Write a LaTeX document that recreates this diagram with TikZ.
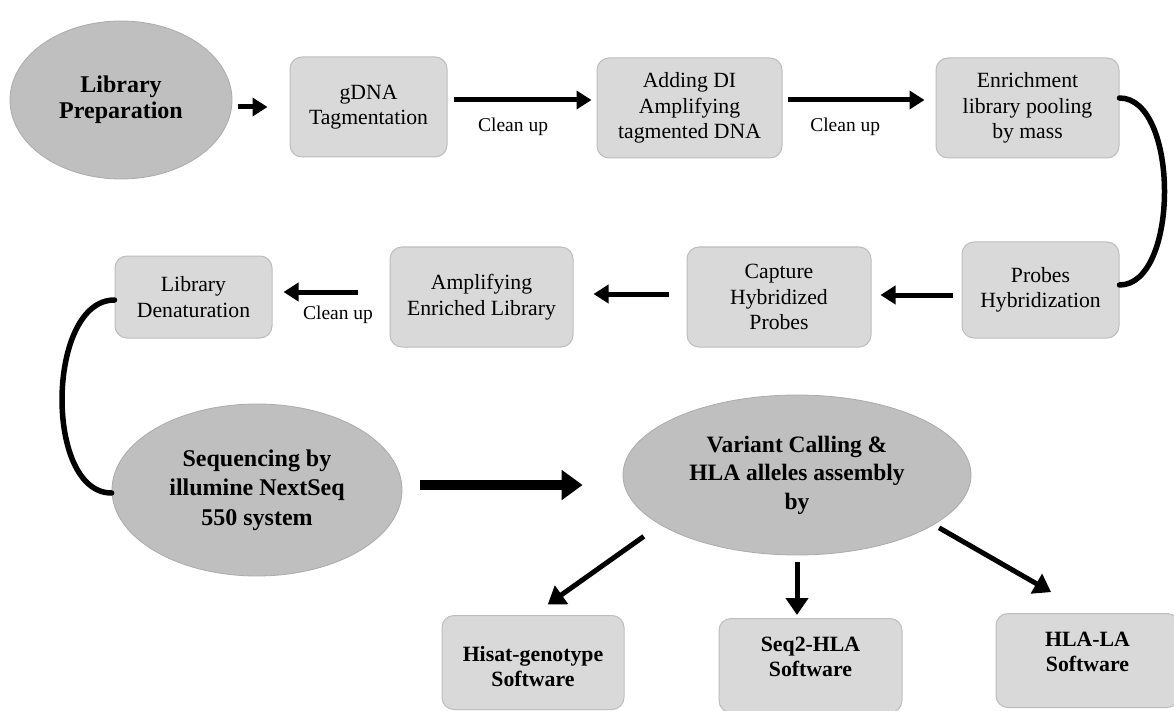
\documentclass[tikz,border=0pt]{standalone}
\usepackage{fontspec}
\setmainfont{Liberation Serif}
\usetikzlibrary{arrows.meta,shapes.geometric,calc}
\definecolor{ellfill}{HTML}{BFBFBF}
\definecolor{ellline}{HTML}{ABABAB}
\definecolor{boxfill}{HTML}{D9D9D9}
\definecolor{boxline}{HTML}{BDBDBD}
\tikzset{
 stepbox/.style={draw=boxline, fill=boxfill, line width=1pt, rounded corners=12pt, align=center, inner sep=0pt, font=\fontsize{21.7}{25.5}\selectfont},
 oval/.style={ellipse, draw=ellline, fill=ellfill, line width=0.8pt, inner sep=0pt, align=center, font=\bfseries\fontsize{24}{29.5}\selectfont},
 arr/.style={line width=5pt, -{Triangle[length=15pt,width=18pt]}},
 arrtwo/.style={line width=5pt, -{Triangle[length=17pt,width=22pt]}},
 bigarr/.style={line width=10pt, -{Triangle[length=21pt,width=29pt]}},
 link/.style={line width=5.5pt, line cap=round},
 lbl/.style={font=\fontsize{19.5}{22}\selectfont, inner sep=0pt},
 btext/.style={align=center, font=\bfseries\fontsize{21.8}{25}\selectfont, inner sep=0pt},
}
\begin{document}
\begin{tikzpicture}[x=1pt,y=-1pt]
\fill[white] (0,0) rectangle (1174,711);
\useasboundingbox (0,0) rectangle (1174,711);
\clip (0,0) rectangle (1174,711);

% nodes
\node[oval, minimum width=222pt, minimum height=158pt, font=\bfseries\fontsize{24}{26}\selectfont] (lib) at (121,100) {Library\\Preparation};
\node[stepbox, minimum width=157pt, minimum height=100pt] (gdna) at (368.5,107) {gDNA\\Tagmentation};
\node[stepbox, minimum width=185pt, minimum height=100pt] (add) at (689.5,108) {Adding DI\\Amplifying\\tagmented DNA};
\node[stepbox, minimum width=183pt, minimum height=100pt] (enr) at (1027.5,108) {Enrichment\\library pooling\\by mass};
\node[stepbox, minimum width=157pt, minimum height=96pt] (prb) at (1040.5,290) {Probes\\Hybridization};
\node[stepbox, minimum width=184pt, minimum height=100pt] (cap) at (779,297) {Capture\\Hybridized\\Probes};
\node[stepbox, minimum width=183pt, minimum height=100pt] (amp) at (481.5,297) {Amplifying\\Enriched Library};
\node[stepbox, minimum width=157pt, minimum height=82pt] (den) at (193.5,297) {Library\\Denaturation};
\node[oval, minimum width=290pt, minimum height=172pt] (seq) at (257,490) {Sequencing by\\illumine NextSeq\\550 system};
\node[oval, minimum width=348pt, minimum height=160pt, font=\bfseries\fontsize{23.5}{28.5}\selectfont] (var) at (797,475) {Variant Calling \&\\HLA alleles assembly\\by};

\node[stepbox, minimum width=182pt, minimum height=94pt, anchor=north] (his) at (533,615) {};
\node[btext] (hist) at (533,667) {Hisat-genotype\\Software};
\node[stepbox, minimum width=183pt, minimum height=94pt, anchor=north] (sqt) at (810.5,618) {};
\node[btext] (sqtt) at (810.5,657) {Seq2-HLA\\Software};
\node[stepbox, minimum width=183pt, minimum height=94pt, anchor=north] (hla) at (1087.5,613) {};
\node[btext] (hlat) at (1087.5,652) {HLA-LA\\Software};

% connectors
\draw[arr, shorten <=6pt, shorten >=22pt] (lib.east |- gdna.west) -- (gdna.west);
\draw[arr, shorten <=6pt, shorten >=5pt] ($(gdna.east)+(0,-7)$) -- ($(add.west)+(0,-8)$)
  node[lbl, pos=0.44, below=15pt] (cuone) {Clean up};
\draw[arr, shorten <=5pt, shorten >=11pt] ($(add.east)+(0,-8)$) -- ($(enr.west)+(0,-8)$)
  node[lbl, pos=0.41, below=15pt] (cutwo) {Clean up};
\draw[link] ($(enr.east)+(0,-10)$) .. controls +(60,0) and +(60,0) .. ($(prb.east)+(0,-5)$);
\draw[arr, shorten <=9pt, shorten >=9pt] ($(prb.west)+(0,5)$) -- ($(cap.east)+(0,-2)$);
\draw[arr, shorten <=18pt, shorten >=20pt] ($(cap.west)+(0,-3)$) -- ($(amp.east)+(0,-3)$);
\draw[arr, shorten <=32pt, shorten >=11pt] ($(amp.west)+(0,-5)$) -- ($(den.east)+(0,-5)$)
  node[lbl, pos=0.44, below=11pt] (cuthree) {Clean up};
\draw[link] ($(den.west)+(0,3)$) .. controls +(-68,0) and +(-68,0) .. ($(seq.west)+(0,3)$);
\draw[bigarr, shorten <=18pt, shorten >=40pt] ($(seq.east)+(0,-5)$) -- ($(var.west)+(0,10)$);
\draw[arrtwo, shorten <=20pt, shorten >=18pt] (var.200) -- (his.north);
\draw[arrtwo, shorten <=7pt, shorten >=3pt] (var.south) -- (var.south |- sqt.north);
\draw[arrtwo, shorten <=6pt, shorten >=42pt] (var.-20) -- (hla.north);
\end{tikzpicture}
\end{document}
